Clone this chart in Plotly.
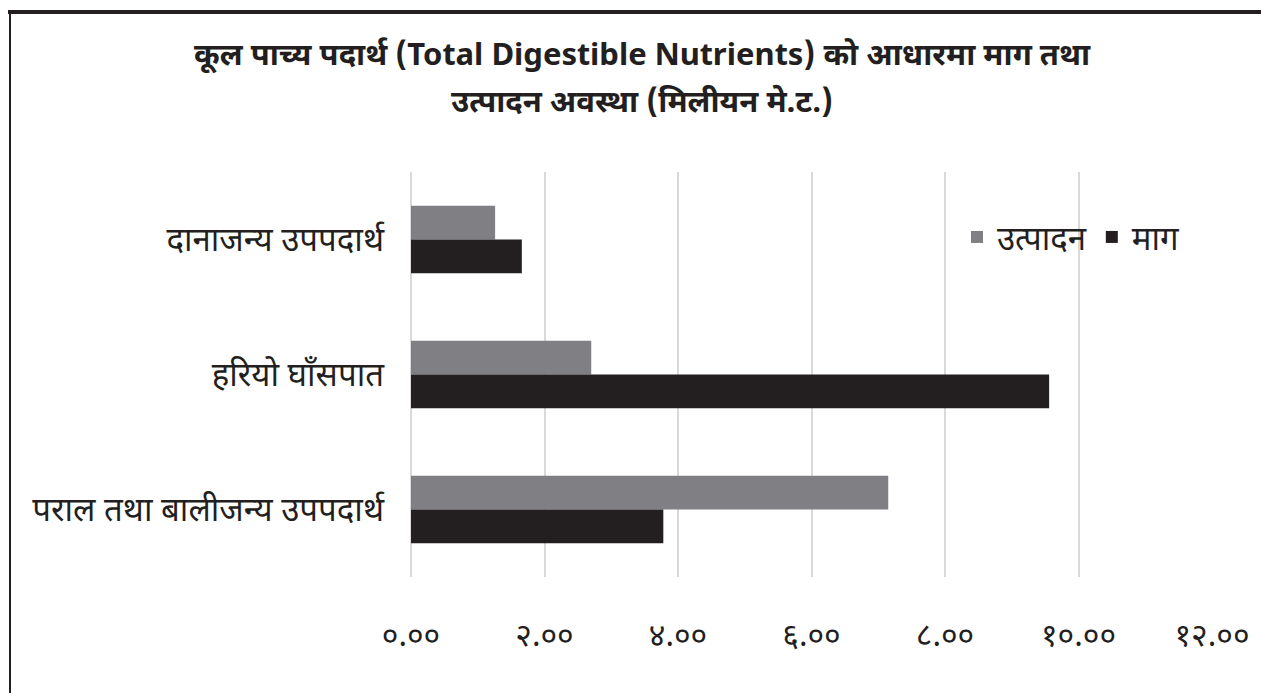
import plotly.graph_objects as go

categories = ["दानाजन्य उपपदार्थ", "हरियो घाँसपात", "पराल तथा बालीजन्य उपपदार्थ"]
series_names = ["उत्पादन", "माग"]
utpadan = [1.26, 2.70, 7.15]
maag = [1.66, 9.56, 3.78]
tick_vals = [0, 2, 4, 6, 8, 10, 12]
tick_text = ["०.००", "२.००", "४.००", "६.००", "८.००", "१०.००", "१२.००"]
title_lines = ["कूल पाच्य पदार्थ (Total Digestible Nutrients) को आधारमा माग तथा",
               "उत्पादन अवस्था (मिलीयन मे.ट.)"]

FONT = "Noto Sans Devanagari, Noto Sans, sans-serif"
OFF = 8  # page body margin
W, H = 1269 - OFF, 693 - OFF
# plot area in screen pixels: x 411..1212, y 172..577
L, R, T, B = 411 - OFF, W - (1212 - OFF), 172 - OFF, H - (577 - OFF)
pw, ph = W - L - R, H - T - B

def px(x):
    return (x - OFF - L) / pw

def py(y):
    return (H - B - (y - OFF)) / ph

fig = go.Figure()
fig.add_trace(go.Bar(y=categories, x=utpadan, name=series_names[0], orientation="h",
                     marker=dict(color="#808084", line=dict(width=0))))
fig.add_trace(go.Bar(y=categories, x=maag, name=series_names[1], orientation="h",
                     marker=dict(color="#231f20", line=dict(width=0))))

annotations = [
    dict(text="<b>" + title_lines[0] + "</b>", x=px(642), y=py(57), xref="paper", yref="paper",
         showarrow=False, xanchor="center", yanchor="middle",
         font=dict(family=FONT, size=31, color="#231f20")),
    dict(text="<b>" + title_lines[1] + "</b>", x=px(642), y=py(104), xref="paper", yref="paper",
         showarrow=False, xanchor="center", yanchor="middle",
         font=dict(family=FONT, size=31, color="#231f20")),
]

shapes = [
    dict(type="line", xref="paper", yref="paper", x0=px(8), x1=px(1280), y0=py(12), y1=py(12),
         line=dict(color="#231f20", width=4)),
    dict(type="line", xref="paper", yref="paper", x0=px(10), x1=px(10), y0=py(12), y1=py(720),
         line=dict(color="#231f20", width=2)),
]

fig.update_layout(
    width=W, height=H,
    margin=dict(l=L, r=R, t=T, b=B),
    paper_bgcolor="white", plot_bgcolor="white",
    barmode="group", bargap=0.5, bargroupgap=0,
    font=dict(family=FONT, size=30, color="#231f20"),
    annotations=annotations,
    shapes=shapes,
    legend=dict(orientation="h", x=px(957), y=py(237), xanchor="left", yanchor="middle",
                font=dict(family=FONT, size=33, color="#231f20"), bgcolor="rgba(0,0,0,0)",
                itemwidth=30, traceorder="normal"),
    showlegend=True,
)
fig.update_xaxes(range=[0, 12], tickvals=tick_vals, ticktext=tick_text,
                 showgrid=True, gridcolor="#d9d9d9", gridwidth=2,
                 zeroline=True, zerolinecolor="#d9d9d9", zerolinewidth=2,
                 showline=False, ticks="", ticklabelstandoff=36,
                 tickfont=dict(family=FONT, size=32, color="#231f20"))
fig.update_yaxes(categoryorder="array", categoryarray=categories, autorange="reversed",
                 showgrid=False, zeroline=False, showline=False, ticks="",
                 ticklabelstandoff=26,
                 tickfont=dict(family=FONT, size=33, color="#231f20"))

fig.write_html("out.html")
